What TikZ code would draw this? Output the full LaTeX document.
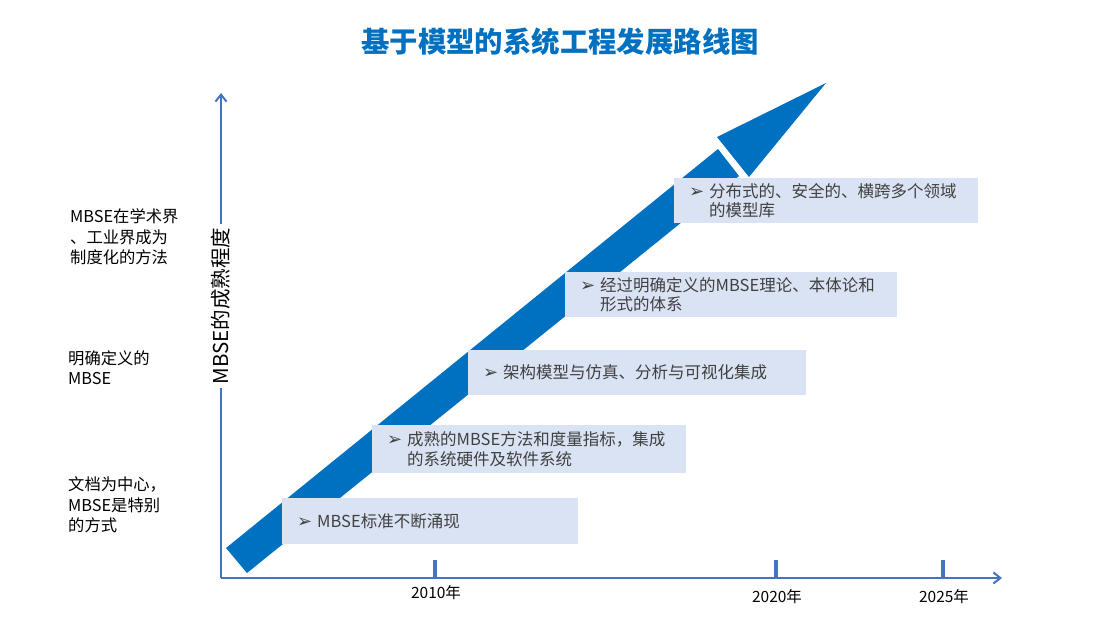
\documentclass[tikz,border=0pt]{standalone}
\usepackage{fontspec}
\setmainfont{Noto Sans CJK SC}
\newfontfamily\dejavu{DejaVu Sans}
\usetikzlibrary{arrows.meta}
\definecolor{mblue}{HTML}{0070C0}
\definecolor{axblue}{HTML}{4472C4}
\definecolor{boxfill}{HTML}{DAE3F3}
\definecolor{txtgray}{HTML}{404040}
\newcommand{\bul}{\makebox[20pt][l]{\dejavu\fontsize{18}{15}\selectfont ➢}}
\newcommand{\ind}{\hspace*{20pt}}
\tikzset{
  stagebox/.style={fill=boxfill, anchor=north west, inner xsep=15pt, inner ysep=0pt,
    align=left, text=txtgray, font=\fontsize{16.5}{19.5}\selectfont},
  leftlab/.style={anchor=west, align=left, inner sep=0pt, font=\fontsize{16.3}{20.5}\selectfont},
  yearlab/.style={font=\fontsize{15.5}{15.5}\selectfont, inner sep=0pt},
  axisline/.style={draw=axblue, line width=2pt},
  tickline/.style={draw=axblue, line width=4pt},
}
\begin{document}
\begin{tikzpicture}[x=1pt,y=-1pt]
\useasboundingbox (0,0) rectangle (1108,629);
% title
\node[font=\fontsize{28.4}{28.4}\selectfont\bfseries, text=mblue] (title) at (560,42) {基于模型的系统工程发展路线图};
% big arrow
\fill[mblue] (226,548) -- (718,149) -- (739,176) -- (247,573) -- cycle;
\fill[mblue] (717,137) -- (826,83) -- (749,177) -- cycle;
% axes
\coordinate (O) at (221,578);
\coordinate (Ytop) at (221,93);
\coordinate (Xend) at (1002,578);
\draw[axisline, -{Straight Barb[length=7pt,width=11pt]}] (O) -- (Ytop);
\draw[axisline, -{Straight Barb[length=7pt,width=11pt]}] (O) -- (Xend);
\node[rotate=90, fill=white, inner xsep=4pt, inner ysep=2pt, font=\fontsize{20.5}{20.5}\selectfont] (ylab) at (221,306) {MBSE的成熟程度};
% ticks
\coordinate (t1a) at (435,560); \coordinate (t1b) at (435,578);
\coordinate (t2a) at (776,560); \coordinate (t2b) at (776,578);
\coordinate (t3a) at (943,560); \coordinate (t3b) at (943,578);
\draw[tickline] (t1a) -- (t1b);
\draw[tickline] (t2a) -- (t2b);
\draw[tickline] (t3a) -- (t3b);
\node[yearlab] (y1) at (436,593) {2010年};
\node[yearlab] (y2) at (777,597) {2020年};
\node[yearlab] (y3) at (944,597) {2025年};
% boxes
\node[stagebox, text width=266pt, minimum height=46pt] (b1) at (282,498) {\bul MBSE标准不断涌现};
\node[stagebox, text width=284pt, minimum height=48pt] (b2) at (372,425) {\bul 成熟的MBSE方法和度量指标，集成\\\ind 的系统硬件及软件系统};
\node[stagebox, text width=308pt, minimum height=45pt] (b3) at (468,350) {\bul 架构模型与仿真、分析与可视化集成};
\node[stagebox, text width=302pt, minimum height=45pt] (b4) at (565,272) {\bul 经过明确定义的MBSE理论、本体论和\\\ind 形式的体系};
\node[stagebox, text width=274pt, minimum height=45pt] (b5) at (674,178) {\bul 分布式的、安全的、横跨多个领域\\\ind 的模型库};
% left labels
\node[leftlab] (l1) at (70,237) {MBSE在学术界\\、工业界成为\\制度化的方法};
\node[leftlab] (l2) at (68,367.5) {明确定义的\\MBSE};
\node[leftlab] (l3) at (68,505) {文档为中心，\\MBSE是特别\\的方式};
\end{tikzpicture}
\end{document}
